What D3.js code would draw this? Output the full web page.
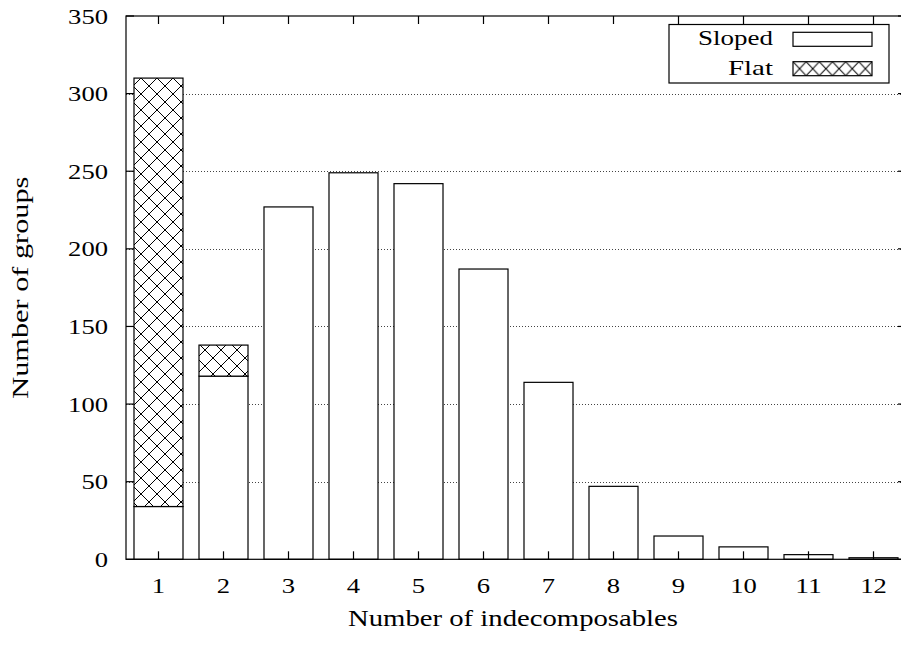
<!DOCTYPE html>
<html>
<head>
<meta charset="utf-8">
<script src="https://cdn.jsdelivr.net/npm/d3@7"></script>
<style>
  html, body { margin: 0; padding: 0; background: #fff; }
  svg { display: block; }
</style>
</head>
<body>
<svg id="chart" width="901" height="646"></svg>
<script>
// ---- data ----
const categories = [1, 2, 3, 4, 5, 6, 7, 8, 9, 10, 11, 12];
const sloped = [34, 118, 227, 249, 242, 187, 114, 47, 15, 8, 3, 1];
const flat   = [276, 20, 0, 0, 0, 0, 0, 0, 0, 0, 0, 0];
const seriesNames = ["Sloped", "Flat"];
const yTicks = [0, 50, 100, 150, 200, 250, 300, 350];
const xLabel = "Number of indecomposables";
const yLabel = "Number of groups";

// ---- layout ----
const FONT = "'Liberation Serif', 'Times New Roman', 'DejaVu Serif', 'Noto Serif', serif";
const pL = 126, pR = 906, pT = 16, pB = 559.3;
const svg = d3.select("#chart").attr("font-family", FONT);

const x = d3.scaleLinear().domain([0.5, 12.5]).range([pL, pR]);
const y = d3.scaleLinear().domain([0, 350]).range([pB, pT]);
const barW = (x(2) - x(1)) * 0.754;
const digitW = 13.3;

// patterns
const defs = svg.append("defs");
const pat = defs.append("pattern")
  .attr("id", "xhatch").attr("patternUnits", "userSpaceOnUse")
  .attr("width", 16).attr("height", 16)
  .attr("patternTransform", "translate(13,14)");
pat.append("rect").attr("width", 16).attr("height", 16).attr("fill", "#fff");
pat.append("path").attr("d", "M0,0L16,16M16,0L0,16M-1,15L1,17M15,-1L17,1M-1,1L1,-1M15,17L17,15")
  .attr("stroke", "#000").attr("stroke-width", 1).attr("fill", "none");

// grid (dotted)
svg.append("g").selectAll("line")
  .data(yTicks.filter(d => d > 0 && d < 350))
  .join("line")
  .attr("x1", pL).attr("x2", pR)
  .attr("y1", d => Math.round(y(d)) + 0.5).attr("y2", d => Math.round(y(d)) + 0.5)
  .attr("stroke", "#444").attr("stroke-width", 1)
  .attr("stroke-dasharray", "1,2");

// stacked bars
const table = categories.map((c, i) => ({ cat: c, Sloped: sloped[i], Flat: flat[i] }));
const stacked = d3.stack().keys(seriesNames)(table);
const fills = { Sloped: "#fff", Flat: "url(#xhatch)" };

svg.append("g").selectAll("g")
  .data(stacked)
  .join("g")
  .attr("fill", d => fills[d.key])
  .selectAll("rect")
  .data(d => d.filter(p => p[1] - p[0] > 0))
  .join("rect")
  .attr("x", d => x(d.data.cat) - barW / 2)
  .attr("width", barW)
  .attr("y", d => y(d[1]))
  .attr("height", d => y(d[0]) - y(d[1]))
  .attr("stroke", "#000").attr("stroke-width", 1.2);

// axes frame + inward ticks
const tickLen = 8;
const axisG = svg.append("g").attr("stroke", "#000").attr("stroke-width", 1.2).attr("fill", "none");
axisG.append("rect").attr("x", pL).attr("y", pT).attr("width", pR - pL).attr("height", pB - pT);
yTicks.forEach(v => {
  axisG.append("line").attr("x1", pL).attr("x2", pL + tickLen).attr("y1", y(v)).attr("y2", y(v));
  axisG.append("line").attr("x1", pR).attr("x2", pR - tickLen).attr("y1", y(v)).attr("y2", y(v));
});
categories.forEach(c => {
  axisG.append("line").attr("x1", x(c)).attr("x2", x(c)).attr("y1", pB).attr("y2", pB - tickLen);
  axisG.append("line").attr("x1", x(c)).attr("x2", x(c)).attr("y1", pT).attr("y2", pT + tickLen);
});

function txt(sel, size) {
  return sel.attr("font-family", FONT).attr("fill", "#000").attr("font-size", size || 22)
    .attr("lengthAdjust", "spacingAndGlyphs");
}

// tick labels
svg.append("g").selectAll("text")
  .data(yTicks).join("text")
  .call(txt, 22)
  .attr("x", 108).attr("y", d => y(d) + 7.5)
  .attr("text-anchor", "end")
  .attr("textLength", d => String(d).length * digitW)
  .text(d => d);

svg.append("g").selectAll("text")
  .data(categories).join("text")
  .call(txt, 22)
  .attr("x", d => x(d)).attr("y", 593)
  .attr("text-anchor", "middle")
  .attr("textLength", d => String(d).length * digitW)
  .text(d => d);

// axis titles
svg.append("text").call(txt, 23)
  .attr("x", 513).attr("y", 626)
  .attr("text-anchor", "middle")
  .attr("textLength", 330)
  .text(xLabel);

svg.append("text").call(txt, 23)
  .attr("transform", `translate(28,${(pT + pB) / 2}) rotate(-90)`)
  .attr("text-anchor", "middle")
  .attr("textLength", 222)
  .text(yLabel);

// legend
const lg = svg.append("g");
lg.append("rect").attr("x", 669).attr("y", 24.5).attr("width", 220).attr("height", 58.5)
  .attr("fill", "#fff").attr("stroke", "#000").attr("stroke-width", 1.2);
const lpat = defs.append("pattern")
  .attr("id", "lhatch").attr("patternUnits", "userSpaceOnUse")
  .attr("width", 79 / 6).attr("height", 14)
  .attr("patternTransform", "translate(793,61.7)");
lpat.append("rect").attr("width", 79 / 6).attr("height", 14).attr("fill", "#fff");
lpat.append("path").attr("d", `M0,0L${79/6},14M${79/6},0L0,14`)
  .attr("stroke", "#000").attr("stroke-width", 1).attr("fill", "none");

const legendRows = [
  { name: seriesNames[0], fill: "#fff", y: 32.3, base: 45, len: 75 },
  { name: seriesNames[1], fill: "url(#lhatch)", y: 61.7, base: 75, len: 45 }
];
legendRows.forEach(r => {
  lg.append("text").call(txt, 22).attr("x", 773).attr("y", r.base).attr("text-anchor", "end")
    .attr("textLength", r.len)
    .text(r.name);
  lg.append("rect").attr("x", 793).attr("y", r.y).attr("width", 79).attr("height", 14)
    .attr("fill", r.fill).attr("stroke", "#000").attr("stroke-width", 1.2);
});
</script>
</body>
</html>
